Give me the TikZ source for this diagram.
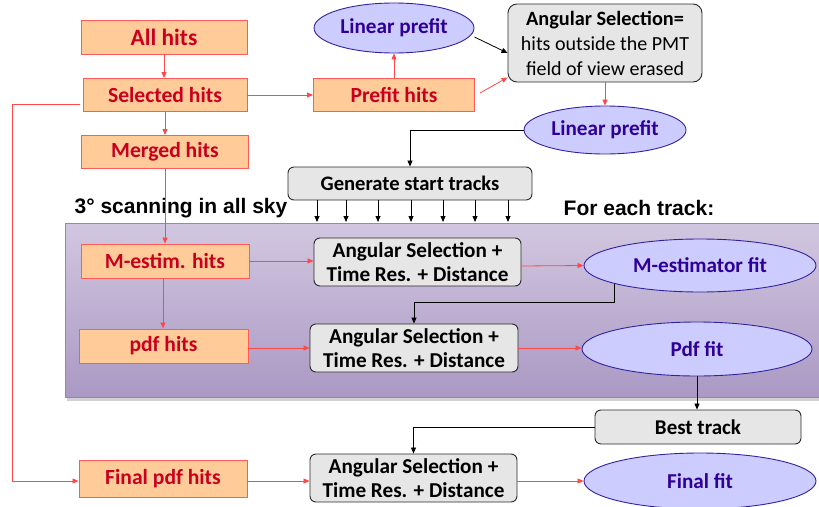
\documentclass[tikz,border=0pt]{standalone}
\usepackage{fontspec}
\setmainfont{Carlito}
\newfontfamily\arialfont{Liberation Sans}
\usetikzlibrary{arrows.meta,shapes.geometric,calc}
\definecolor{hitfill}{HTML}{FFCC99}
\definecolor{hitline}{HTML}{FF5A5A}
\definecolor{hittext}{HTML}{C8001E}
\definecolor{fitfill}{HTML}{CCCCFF}
\definecolor{fitline}{HTML}{3322A0}
\definecolor{fittext}{HTML}{300096}
\definecolor{boxfill}{HTML}{E6E6E6}
\definecolor{boxline}{HTML}{2A2A2A}
\definecolor{redarrow}{HTML}{FF4848}
\definecolor{paneltop}{HTML}{D2C7E0}
\definecolor{panelbot}{HTML}{AA99C4}
\definecolor{panelline}{HTML}{9686B0}
\tikzset{
  x=1pt, y=-1pt,
  hitbox/.style={draw=hitline, line width=0.9pt, fill=hitfill, text=hittext, inner sep=0pt,
    font=\fontsize{21.6}{25}\selectfont\bfseries},
  fitell/.style={ellipse, draw=fitline, line width=0.9pt, fill=fitfill, text=fittext, inner sep=0pt,
    font=\fontsize{21.2}{25}\selectfont\bfseries},
  grbox/.style={draw=boxline, line width=0.9pt, fill=boxfill, rounded corners=6pt, inner sep=0pt,
    align=center, font=\fontsize{21.2}{24.5}\selectfont\bfseries},
  redarr/.style={draw=redarrow, line width=0.8pt, -{Triangle[length=6pt,width=5pt]}},
  blkarr/.style={draw=black, line width=0.8pt, -{Triangle[length=6pt,width=5pt]}},
  header/.style={font=\arialfont\fontsize{21}{25}\selectfont\bfseries, inner sep=0pt}
}
\begin{document}
\begin{tikzpicture}
\useasboundingbox (0,0) rectangle (819,506);
% panel
\fill[gray!60, opacity=0.6] (67,226) rectangle (825,401);
\shade[top color=paneltop, bottom color=panelbot, draw=panelline, line width=0.9pt] (65,223) rectangle (824,397);

% headers
\node[header] (scan) at (181,208) {3° scanning in all sky};
\node[header] (each) at (639,208) {For each track:};

% hit boxes
\node[hitbox, minimum width=166pt, minimum height=34pt, font=\fontsize{23.4}{27}\selectfont\bfseries] (all) at (164,37) {All hits};
\node[hitbox, minimum width=164pt, minimum height=33pt] (sel) at (165,95) {Selected hits};
\node[hitbox, minimum width=167pt, minimum height=33pt] (mer) at (165,152) {Merged hits};
\node[hitbox, minimum width=161pt, minimum height=33pt] (pre) at (394,95) {Prefit hits};
\node[hitbox, minimum width=168pt, minimum height=34pt] (mest) at (165,261) {M-estim. hits};
\node[hitbox, minimum width=169pt, minimum height=34pt] (pdfh) at (163.5,346) {pdf hits};
\node[hitbox, minimum width=168pt, minimum height=37pt] (finh) at (163,479) {Final pdf hits};

% ellipses
\node[fitell, minimum width=160pt, minimum height=50pt] (lp1) at (394,28) {Linear prefit};
\node[fitell, minimum width=162pt, minimum height=48pt] (lp2) at (605,130) {Linear prefit};
\node[fitell, minimum width=232pt, minimum height=53pt] (mfit) at (700,265.5) {M-estimator fit};
\node[fitell, minimum width=230pt, minimum height=54pt] (pfit) at (697,349) {Pdf fit};
\node[fitell, minimum width=232pt, minimum height=56pt] (ffit) at (700,481) {Final fit};

% grey boxes
\node[grbox, minimum width=194pt, minimum height=78pt, rounded corners=9pt,
  font=\fontsize{20}{25}\selectfont] (asel) at (605,43)
  {{\bfseries\fontsize{20.3}{25}\selectfont Angular Selection=}\\ hits outside the PMT\\ field of view erased};
\node[grbox, minimum width=244pt, minimum height=33pt, font=\fontsize{20.6}{24}\selectfont\bfseries] (gen) at (410,183.5) {Generate start tracks};
\node[grbox, minimum width=207pt, minimum height=48pt] (as1) at (417.5,262) {Angular Selection +\\Time Res. + Distance};
\node[grbox, minimum width=208pt, minimum height=48pt] (as2) at (414,348) {Angular Selection +\\Time Res. + Distance};
\node[grbox, minimum width=206pt, minimum height=34pt, font=\fontsize{21}{24}\selectfont\bfseries] (best) at (698,427) {Best track};
\node[grbox, minimum width=207pt, minimum height=48pt] (as3) at (413.5,478) {Angular Selection +\\Time Res. + Distance};

% connectors top part
\draw[redarr] (all.south) -- (all.south |- sel.north);
\draw[redarr] (sel.south) -- (sel.south |- mer.north);
\draw[redarr] (sel.east) -- (pre.west);
\draw[redarr] (pre.north) -- (lp1.south);
\draw[redarr] ([shift={(5pt,2pt)}]pre.east) -- ([yshift=5pt]asel.south west);
\draw[blkarr] ([yshift=-9pt]lp1.east) -- ([yshift=-10pt]asel.west);
\draw[redarr] (asel.south) -- (lp2.north);
\draw[blkarr] (lp2.west) -| (gen.north);
\foreach \xx in {317,346,378,411,443,475,508}{
  \draw[blkarr] (gen.south -| \xx,0) -- (\xx,222);
}

% panel part
\draw[redarr] (mer.south) -- (mer.south |- mest.north);
\draw[redarr] (mest.east) -- (mest.east -| as1.west);
\draw[redarr] ([yshift=-4pt]as1.east) -- (mfit.west);
\draw[redarr] ([xshift=-2pt]mest.south) -- ([xshift=-2pt]mest.south |- pdfh.north);
\draw[redarr] (as2.west -| pdfh.east) -- (as2.west);
\draw[redarr] (as2.east) -- (as2.east -| pfit.west);
\draw[blkarr] (mfit.192) -- ++(0,19) -| (as2.north);

% bottom part
\draw[blkarr] (pfit.south) -- (pfit.south |- best.north);
\draw[blkarr] (best.west) -| (as3.north);
\draw[redarr] ([yshift=-2pt]finh.east) -- ([yshift=-2pt]finh.east -| as3.west);
\draw[redarr] (ffit.west -| as3.east) -- (ffit.west);
\draw[redarr] ([shift={(-3pt,-9pt)}]sel.west) -- ++(-67,0) |- ([yshift=-2pt]finh.west);
\end{tikzpicture}
\end{document}
